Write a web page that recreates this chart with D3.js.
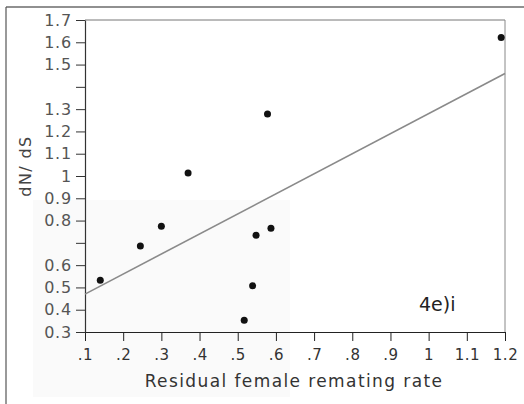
<!DOCTYPE html>
<html><head><meta charset="utf-8">
<script src="https://cdn.jsdelivr.net/npm/d3@7"></script>
<style>body{margin:0;background:#fff}svg{display:block}text{font-family:"DejaVu Sans",Verdana,sans-serif}</style>
</head><body><div id="chart"></div>
<script>
const remating = [0.14, 0.245, 0.30, 0.37, 0.517, 0.539, 0.548, 0.578, 0.587, 1.19];
const dnds     = [0.532, 0.686, 0.775, 1.014, 0.353, 0.507, 0.734, 1.278, 0.765, 1.621];
const fitX = [0.1, 1.2];
const fitY = [0.47, 1.46];
const xTicks = [0.1,0.2,0.3,0.4,0.5,0.6,0.7,0.8,0.9,1,1.1,1.2];
const xTickLabels = [".1",".2",".3",".4",".5",".6",".7",".8",".9","1","1.1","1.2"];
const yTicks = [0.3,0.4,0.5,0.6,0.7,0.8,0.9,1,1.1,1.2,1.3,1.4,1.5,1.6,1.7];
const yTickLabels = ["0.3","0.4","0.5","0.6","","0.8","0.9","1","1.1","1.2","1.3","","1.5","1.6","1.7"];

const W=524,H=404;
const svg=d3.select("#chart").append("svg").attr("width",W).attr("height",H);
const L=85,R=505,T=20,B=332;
const x=d3.scaleLinear().domain([0.1,1.2]).range([L,R]);
const y=d3.scaleLinear().domain([0.3,1.7]).range([B,T]);

// faint scan shading
svg.append("rect").attr("x",33).attr("y",200).attr("width",257).attr("height",197).attr("fill","#fafafa");

// outer frame
svg.append("line").attr("x1",6).attr("x2",W).attr("y1",7).attr("y2",7).attr("stroke","#222").attr("stroke-width",1.2);
svg.append("line").attr("x1",6).attr("x2",6).attr("y1",7).attr("y2",H).attr("stroke","#555").attr("stroke-width",1.2);

// plot box top/right
svg.append("line").attr("x1",L).attr("x2",R).attr("y1",T).attr("y2",T).attr("stroke","#777");
svg.append("line").attr("x1",R).attr("x2",R).attr("y1",T).attr("y2",B).attr("stroke","#888");

const xAxis=svg.append("g").attr("transform",`translate(0,${B})`)
  .call(d3.axisBottom(x).tickValues(xTicks).tickFormat((d,i)=>xTickLabels[i]).tickSize(9).tickSizeOuter(0).tickPadding(8));
xAxis.select(".domain").attr("stroke","#222").attr("stroke-width",1.2);
xAxis.selectAll(".tick line").attr("stroke","#222");
xAxis.selectAll("text").attr("font-size",15).attr("fill","#333").attr("letter-spacing",0.5);

const yAxis=svg.append("g").attr("transform",`translate(${L},0)`)
  .call(d3.axisLeft(y).tickValues(yTicks).tickFormat((d,i)=>yTickLabels[i]).tickSize(9).tickSizeOuter(0).tickPadding(4));
yAxis.select(".domain").attr("stroke","#333").attr("stroke-width",1.2);
yAxis.selectAll(".tick line").attr("stroke","#333");
yAxis.selectAll("text").attr("font-size",16).attr("fill","#555").attr("letter-spacing",0.8);

// fit line
svg.append("line").attr("x1",x(fitX[0])).attr("y1",y(fitY[0])).attr("x2",x(fitX[1])).attr("y2",y(fitY[1]))
  .attr("stroke","#8a8a8a").attr("stroke-width",1.6);

// points
svg.selectAll("circle.pt").data(remating).enter().append("circle").attr("class","pt")
  .attr("cx",(d)=>x(d)).attr("cy",(d,i)=>y(dnds[i])).attr("r",3.5).attr("fill","#111");

svg.append("text").attr("x",294).attr("y",387).attr("text-anchor","middle").attr("font-size",17).attr("fill","#333")
  .attr("letter-spacing",1.4).text("Residual female remating rate");
svg.append("text").attr("transform","translate(31,166) rotate(-90)").attr("text-anchor","middle").attr("font-size",16).attr("fill","#444")
  .attr("letter-spacing",1.4).text("dN/ dS");
svg.append("text").attr("x",419).attr("y",311).attr("font-size",19).attr("fill","#222").text("4e)i");
</script></body></html>
